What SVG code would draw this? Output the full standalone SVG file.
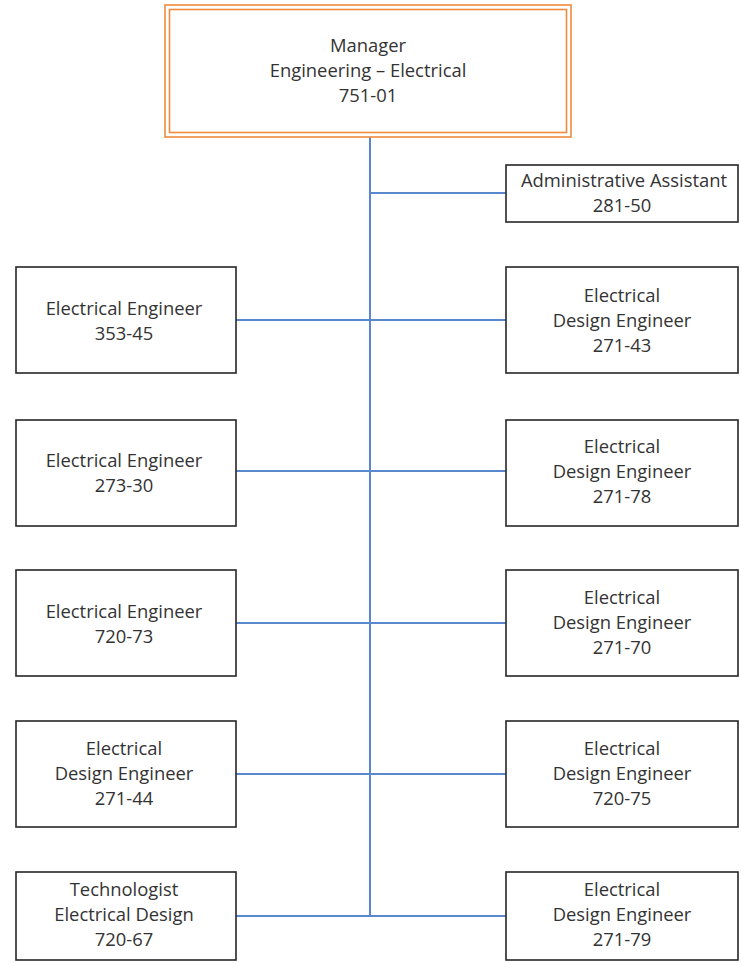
<svg xmlns="http://www.w3.org/2000/svg" width="741" height="963" viewBox="0 0 741 963">
<style>
.box{fill:#fff;stroke:#262626;stroke-width:1.6}
.mgr{fill:none;stroke:#ef8a3e;stroke-width:1.6}
.lbl{font-family:"Open Sans","Liberation Sans",sans-serif;font-size:18.4px;fill:#333;text-anchor:middle}
.con{stroke:#5a88cf;stroke-width:2;fill:none}
</style>
<rect width="741" height="963" fill="#fff"/>
<g id="connectors">
<line class="con" x1="370" y1="137" x2="370" y2="916"/>
<line class="con" x1="370" y1="193" x2="506" y2="193"/>
<line class="con" x1="236" y1="320" x2="506" y2="320"/>
<line class="con" x1="236" y1="471" x2="506" y2="471"/>
<line class="con" x1="236" y1="623" x2="506" y2="623"/>
<line class="con" x1="236" y1="774" x2="506" y2="774"/>
<line class="con" x1="236" y1="916" x2="506" y2="916"/>
</g>
<g id="manager">
<rect x="165" y="5" width="406" height="132" fill="#fff" class="mgr"/>
<rect x="169.5" y="9.5" width="397" height="123" class="mgr"/>
<text class="lbl" x="368" y="52">Manager</text>
<text class="lbl" x="368" y="77">Engineering – Electrical</text>
<text class="lbl" x="368" y="102">751-01</text>
</g>
<g id="admin">
<rect class="box" x="506" y="165" width="232" height="57"/>
<text class="lbl" x="624" y="187">Administrative Assistant</text>
<text class="lbl" x="622" y="212">281-50</text>
</g>
<g id="ee-353-45">
<rect class="box" x="16" y="267" width="220" height="106"/>
<text class="lbl" x="124" y="315">Electrical Engineer</text>
<text class="lbl" x="124" y="340">353-45</text>
</g>
<g id="ede-271-43">
<rect class="box" x="506" y="267" width="232" height="106"/>
<text class="lbl" x="622" y="302">Electrical</text>
<text class="lbl" x="622" y="327">Design Engineer</text>
<text class="lbl" x="622" y="352">271-43</text>
</g>
<g id="ee-273-30">
<rect class="box" x="16" y="420" width="220" height="106"/>
<text class="lbl" x="124" y="467">Electrical Engineer</text>
<text class="lbl" x="124" y="492">273-30</text>
</g>
<g id="ede-271-78">
<rect class="box" x="506" y="420" width="232" height="106"/>
<text class="lbl" x="622" y="453">Electrical</text>
<text class="lbl" x="622" y="478">Design Engineer</text>
<text class="lbl" x="622" y="503">271-78</text>
</g>
<g id="ee-720-73">
<rect class="box" x="16" y="570" width="220" height="106"/>
<text class="lbl" x="124" y="618">Electrical Engineer</text>
<text class="lbl" x="124" y="643">720-73</text>
</g>
<g id="ede-271-70">
<rect class="box" x="506" y="570" width="232" height="106"/>
<text class="lbl" x="622" y="604">Electrical</text>
<text class="lbl" x="622" y="629">Design Engineer</text>
<text class="lbl" x="622" y="654">271-70</text>
</g>
<g id="ede-271-44">
<rect class="box" x="16" y="721" width="220" height="106"/>
<text class="lbl" x="124" y="755">Electrical</text>
<text class="lbl" x="124" y="780">Design Engineer</text>
<text class="lbl" x="124" y="805">271-44</text>
</g>
<g id="ede-720-75">
<rect class="box" x="506" y="721" width="232" height="106"/>
<text class="lbl" x="622" y="755">Electrical</text>
<text class="lbl" x="622" y="780">Design Engineer</text>
<text class="lbl" x="622" y="805">720-75</text>
</g>
<g id="tech-720-67">
<rect class="box" x="16" y="872" width="220" height="88"/>
<text class="lbl" x="124" y="896">Technologist</text>
<text class="lbl" x="124" y="921">Electrical Design</text>
<text class="lbl" x="124" y="946">720-67</text>
</g>
<g id="ede-271-79">
<rect class="box" x="506" y="872" width="232" height="88"/>
<text class="lbl" x="622" y="896">Electrical</text>
<text class="lbl" x="622" y="921">Design Engineer</text>
<text class="lbl" x="622" y="946">271-79</text>
</g>
</svg>
